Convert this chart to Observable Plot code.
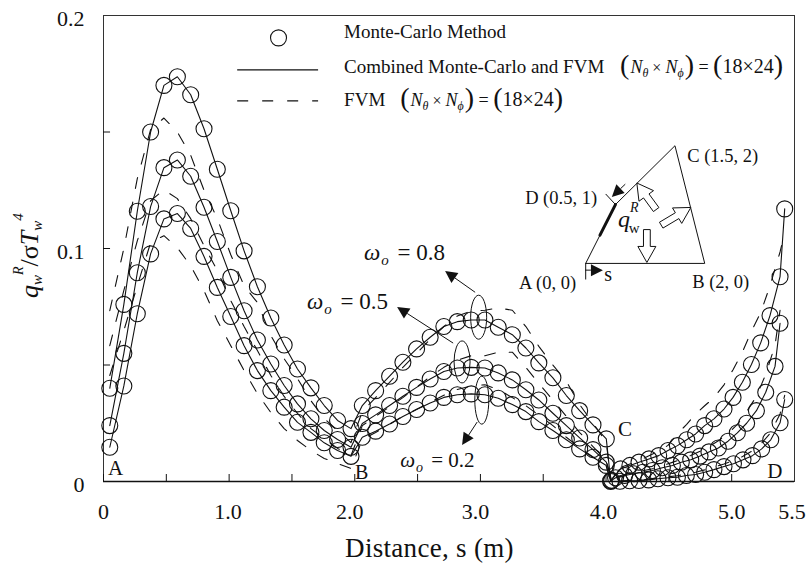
<!DOCTYPE html>
<html><head><meta charset="utf-8">
<style>html,body{margin:0;padding:0;background:#fff}svg{display:block}</style>
<script src="https://cdn.jsdelivr.net/npm/d3@7"></script>
<script src="https://cdn.jsdelivr.net/npm/@observablehq/plot@0.6"></script>
</head><body><div id="chart"></div>
<script>
const sAB=[0.05,0.162,0.269,0.375,0.481,0.588,0.694,0.8,0.906,1.013,1.119,1.225,1.332,1.438,1.544,1.651,1.757,1.863,1.97];
const sBC=[2.06,2.166,2.277,2.383,2.492,2.6,2.709,2.816,2.927,3.036,3.142,3.254,3.362,3.465,3.577,3.684,3.79,3.896,4.002];
const sCD8=[4.037,4.116,4.19,4.262,4.342,4.419,4.493,4.568,4.642,4.713,4.785,4.859,4.939,5.011,5.085,5.157,5.231,5.305,5.385,5.422];
const sCD5=[4.045,4.076,4.148,4.222,4.294,4.369,4.448,4.528,4.599,4.674,4.748,4.819,4.894,4.971,5.045,5.119,5.197,5.271,5.345,5.385];
const sCD2=[4.037,4.111,4.188,4.262,4.339,4.413,4.493,4.568,4.639,4.713,4.785,4.859,4.939,5.014,5.09,5.165,5.239,5.311,5.385,5.422];

const mc8=[0.04,0.076,0.116,0.15,0.17,0.1737,0.166,0.1514,0.134,0.1162,0.099,0.0836,0.0702,0.0586,0.0483,0.0402,0.0326,0.0262,0.0227,
 0.0326,0.039,0.0452,0.0512,0.0569,0.0619,0.0665,0.0686,0.0693,0.0693,0.0662,0.063,0.0573,0.0509,0.0445,0.0369,0.0304,0.0243,0.0183,
 0.0003,0.0054,0.0069,0.0083,0.0097,0.0111,0.0133,0.0154,0.0179,0.0204,0.024,0.0269,0.0311,0.0361,0.0426,0.0502,0.0595,0.0712,0.0879,0.117];
const mc5=[0.024,0.055,0.0896,0.118,0.1347,0.138,0.131,0.1177,0.103,0.0876,0.0733,0.0607,0.0504,0.0412,0.0333,0.0269,0.0219,0.018,0.0147,
 0.0249,0.0286,0.0326,0.0366,0.0404,0.044,0.0472,0.0487,0.049,0.0487,0.0466,0.0436,0.0394,0.035,0.0293,0.024,0.0187,0.0137,0.0083,
 0.0005,0.0016,0.0026,0.0033,0.004,0.0047,0.0059,0.0069,0.0083,0.0093,0.0109,0.0127,0.0144,0.0173,0.0209,0.025,0.0304,0.0383,0.0494,0.0679];
const mc2=[0.0147,0.041,0.072,0.0977,0.1127,0.115,0.1086,0.0966,0.0833,0.0708,0.0583,0.0476,0.039,0.0319,0.0254,0.0211,0.0166,0.0133,0.0108,
 0.019,0.0216,0.0247,0.0279,0.0309,0.0337,0.0361,0.0372,0.0376,0.0372,0.0357,0.033,0.03,0.0257,0.0219,0.0179,0.014,0.0104,0.0069,
 0,0.0001,0.0003,0.0004,0.0007,0.0012,0.0016,0.0018,0.0026,0.003,0.004,0.0051,0.0064,0.0076,0.0093,0.0111,0.014,0.0179,0.0252,0.0352];

const fvm8=[0.0733,0.1,0.13,0.151,0.156,0.15,0.14,0.125,0.1128,0.0973,0.084,0.0768,0.0626,0.0527,0.0442,0.0347,0.027,0.0219,0.0167,
 0.03,0.036,0.0425,0.049,0.055,0.061,0.0665,0.071,0.0732,0.0735,0.0745,0.0735,0.0665,0.058,0.05,0.043,0.033,0.025,0.017,
 0.0003,0.006,0.0075,0.009,0.011,0.013,0.0155,0.0205,0.0245,0.029,0.0325,0.036,0.0415,0.048,0.0555,0.0645,0.0725,0.084,0.0985,0.107];
const fvm5=[0.0583,0.082,0.1033,0.1205,0.1252,0.1214,0.1128,0.1012,0.0905,0.0776,0.0665,0.0562,0.0455,0.0365,0.0292,0.0227,0.0184,0.0142,0.0111,
 0.024,0.028,0.032,0.036,0.0405,0.045,0.049,0.052,0.054,0.054,0.0555,0.0555,0.049,0.042,0.035,0.028,0.021,0.015,0.009,
 0.0005,0.002,0.003,0.0038,0.0046,0.0055,0.0068,0.0082,0.0095,0.0112,0.013,0.015,0.0175,0.0205,0.0245,0.03,0.0365,0.046,0.0585,0.0735];
const fvm2=[0.0455,0.0648,0.084,0.1025,0.1055,0.1003,0.0926,0.0819,0.069,0.0583,0.0476,0.0377,0.0296,0.0227,0.0176,0.0133,0.0099,0.0077,0.0056,
 0.018,0.021,0.0245,0.028,0.031,0.034,0.037,0.0395,0.041,0.0415,0.0395,0.036,0.0325,0.0285,0.024,0.019,0.0145,0.0105,0.0065,
 0,0.0002,0.0004,0.0006,0.001,0.0015,0.002,0.0025,0.0032,0.004,0.005,0.0062,0.0075,0.009,0.0108,0.0132,0.0165,0.021,0.029,0.037];

const xTickValues=[0,0.5,1,1.5,2,2.5,3,3.5,4,4.5,5];
const xLabelTexts=["0","1.0","2.0","3.0","4.0","5.0","5.5"];
const xLabelPlaces=[0,0.99,1.96,2.96,3.98,5.0,5.48];
const yTickValues=[0.05,0.1,0.15];
const yLabelTexts=["0","0.1","0.2"];
const yLabelPlaces=[0,0.1,0.2];

const inkColor="#111";
const serif="'Liberation Serif',serif";
const toRows=(s,q)=>s.map((d,i)=>({s:d,q:q[i]}));
const curve8=sAB.concat(sBC,sCD8), curve5=sAB.concat(sBC,sCD5), curve2=sAB.concat(sBC,sCD2);
const series=[[curve8,mc8,fvm8],[curve5,mc5,fvm5],[curve2,mc2,fvm2]];

const insetOrigin=[3.838,0.0936], insetScale=[0.4737,0.02525];
const toChart=([u,v])=>({s:insetOrigin[0]+insetScale[0]*u,q:insetOrigin[1]+insetScale[1]*v});
const enclosure=[[0,0],[2,0],[1.5,2],[0.5,1],[0,0]];
const boldWall=[[0.5,1],[0.24,0.48]];

const ellipses=[[2.99,0.0703,8,22],[2.858,0.0511,8,21],[3.015,0.0347,7,24]];
const solidArrows=[[2.962,0.081,2.723,0.0901],[2.787,0.0592,2.341,0.0747],[2.978,0.0253,2.858,0.0154],[4.157,0.1274,4.05,0.1219],[3.838,0.0905,3.979,0.0905]];
const hollowArrows=[[4.403,0.1165,4.249,0.1279],[4.443,0.1098,4.679,0.1174],[4.329,0.1079,4.329,0.0938]];
const thinRules=[[3.838,0.0936,3.838,0.0867],[3.997,0.1234,4.076,0.1188]];

function richText(s,q,runs,{size=18,rotate=0,spacing=0}={}){
  return (i,scales)=>{
    const t=d3.create("svg:text").attr("font-family",serif).attr("font-size",size).attr("fill",inkColor)
      .attr("text-anchor","start").attr("letter-spacing",spacing)
      .attr("transform",`translate(${scales.x(s)},${scales.y(q)}) rotate(${rotate})`);
    let cur=0;
    for(const r of runs){
      const o=typeof r==="string"?{t:r}:r;
      const sp=t.append("svg:tspan").text(o.t).style("white-space","pre");
      if(o.i) sp.attr("font-style","italic");
      if(o.size) sp.attr("font-size",o.size);
      const off=o.dy||0;
      sp.attr("dy",off-cur); cur=off;
      if(o.dx) sp.attr("dx",o.dx);
    }
    return t.node();
  };
}
const ntimes=[{t:"(",size:28,dy:1},{t:"N",i:true,size:18,dx:1},{t:"θ",i:true,size:12,dy:4},{t:" × ",size:16},{t:"N",i:true,size:18},{t:"ϕ",i:true,size:12,dy:4},{t:")",size:28,dy:1,dx:1},{t:" = ",size:18},{t:"(",size:28,dy:1},{t:"18×24",size:20},{t:")",size:28,dy:1}];
const omega=(v,sub)=>[{t:"ω",i:true},{t:"o",i:true,size:sub,dy:5,dx:1},{t:" = "+v,dx:3}];

const ellipseMark=(i,{x,y})=>{
  const g=d3.create("svg:g").attr("fill","none").attr("stroke",inkColor);
  for(const [s,q,rx,ry] of ellipses) g.append("svg:ellipse").attr("cx",x(s)).attr("cy",y(q)).attr("rx",rx).attr("ry",ry);
  return g.node();
};
const arrowMark=(i,{x,y})=>{
  const g=d3.create("svg:g");
  for(const [s0,q0,s1,q1] of solidArrows){
    const a=[x(s0),y(q0)],b=[x(s1),y(q1)],th=Math.atan2(b[1]-a[1],b[0]-a[0]);
    const L=12,W=6,c=[b[0]-L*Math.cos(th),b[1]-L*Math.sin(th)];
    g.append("svg:line").attr("x1",a[0]).attr("y1",a[1]).attr("x2",c[0]).attr("y2",c[1]).attr("stroke",inkColor);
    g.append("svg:path").attr("fill",inkColor).attr("d",`M${b}L${c[0]-W*Math.sin(th)},${c[1]+W*Math.cos(th)}L${c[0]+W*Math.sin(th)},${c[1]-W*Math.cos(th)}Z`);
  }
  for(const [s0,q0,s1,q1] of hollowArrows){
    const a=[x(s0),y(q0)],b=[x(s1),y(q1)],th=Math.atan2(b[1]-a[1],b[0]-a[0]);
    const ux=Math.cos(th),uy=Math.sin(th),nx=-uy,ny=ux,H=16,W1=3.4,W2=9,c=[b[0]-H*ux,b[1]-H*uy];
    const p=[[a[0]+W1*nx,a[1]+W1*ny],[c[0]+W1*nx,c[1]+W1*ny],[c[0]+W2*nx,c[1]+W2*ny],b,[c[0]-W2*nx,c[1]-W2*ny],[c[0]-W1*nx,c[1]-W1*ny],[a[0]-W1*nx,a[1]-W1*ny]];
    g.append("svg:path").attr("fill","#fff").attr("stroke",inkColor).attr("d","M"+p.join("L")+"Z");
  }
  return g.node();
};

const marks=[Plot.frame({stroke:"#333"})];
marks.push(Plot.ruleX(xTickValues,{y1:0,y2:0.003,stroke:inkColor}));
marks.push(Plot.ruleY(yTickValues,{x1:0,x2:0.056,stroke:inkColor}));
marks.push(Plot.ruleY([0],{stroke:inkColor,strokeWidth:1.3}));
marks.push(Plot.text(xLabelTexts,{x:(d,i)=>xLabelPlaces[i],y:()=>0,text:d=>d,dy:30,fontSize:22,fill:inkColor,clip:false}));
marks.push(Plot.text(yLabelTexts,{x:()=>0,y:(d,i)=>yLabelPlaces[i],text:d=>d,dx:-19,dy:3,textAnchor:"end",fontSize:22,fill:inkColor}));

for(const [sv,mc,fv] of series){
  marks.push(Plot.line(toRows(sv,fv),{x:"s",y:"q",stroke:inkColor,strokeWidth:1.1,strokeDasharray:"11,14"}));
  marks.push(Plot.line(toRows(sv,mc),{x:"s",y:"q",stroke:inkColor,strokeWidth:1.1}));
  marks.push(Plot.dot(toRows(sv,mc),{x:"s",y:"q",r:8,stroke:inkColor,strokeWidth:1.1,fill:"none"}));
}
marks.push(Plot.dot([{s:1.393,q:0.1904}],{x:"s",y:"q",r:8,stroke:inkColor,strokeWidth:1.1}));
marks.push(Plot.ruleY([0.1767],{x1:1.068,x2:1.712,stroke:inkColor,strokeWidth:1.2}));
marks.push(Plot.ruleY([0.1634],{x1:1.068,x2:1.712,stroke:inkColor,strokeWidth:1.2,strokeDasharray:"11,14"}));
marks.push(Plot.line(enclosure.map(toChart),{x:"s",y:"q",stroke:inkColor,strokeWidth:1}));
marks.push(Plot.line(boldWall.map(toChart),{x:"s",y:"q",stroke:inkColor,strokeWidth:3}));
marks.push(Plot.link(thinRules,{x1:"0",y1:"1",x2:"2",y2:"3",stroke:inkColor}));
marks.push(ellipseMark,arrowMark);

const labels=[
 richText(1.919,0.19,["Monte-Carlo Method"],{size:19}),
 richText(1.919,0.1749,["Combined Monte-Carlo and FVM"],{size:19}),
 richText(4.116,0.1749,ntimes,{size:19}),
 richText(1.919,0.1608,["FVM"],{size:19}),
 richText(2.365,0.1608,ntimes,{size:19}),
 richText(2.078,0.0948,omega("0.8",15),{size:23}),
 richText(1.624,0.0738,omega("0.5",15),{size:23}),
 richText(2.365,0.006,omega("0.2",14),{size:21}),
 richText(0.04,0.0026,["A"],{size:21}),
 richText(2.006,0.001,["B"],{size:20}),
 richText(4.1,0.0193,["C"],{size:21}),
 richText(5.287,0.0013,["D"],{size:21}),
 richText(4.65,0.1368,["C (1.5, 2)"],{size:18.5}),
 richText(3.36,0.1188,["D (0.5, 1)"],{size:18.5}),
 richText(3.312,0.0823,["A (0, 0)"],{size:18.5}),
 richText(4.69,0.0828,["B (2, 0)"],{size:18.5}),
 richText(3.99,0.0858,["s"],{size:20}),
 richText(4.1,0.1089,[{t:"q",i:true,size:24},{t:"R",i:true,size:14,dy:-15},{t:"w",size:15,dy:6,dx:-10}],{size:24}),
 richText(1.927,-0.0326,["Distance, s (m)"],{size:27,spacing:0.3}),
 richText(-0.5175,0.0785,[{t:"q",i:true},{t:"w",i:true,size:15,dy:4},{t:"R",i:true,size:14,dy:-15},{t:"/"},{t:"σ"},{t:"T",i:true},{t:"w",i:true,size:15,dy:4},{t:"4",i:true,size:15,dy:-15}],{size:26,rotate:-90})
];
marks.push(...labels);

const chart=Plot.plot({
  width:807,height:570,marginLeft:103,marginRight:13,marginTop:15,marginBottom:89,
  x:{domain:[0,5.5],axis:null},y:{domain:[0,0.2],axis:null},
  style:{fontFamily:serif,color:inkColor,background:"#fff",overflow:"visible"},
  marks
});
document.getElementById("chart").append(chart);
</script></body></html>
